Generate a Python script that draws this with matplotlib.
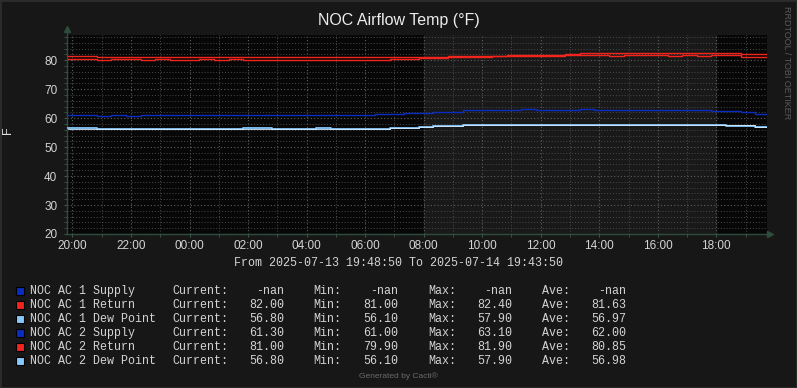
import matplotlib
matplotlib.use("Agg")
import matplotlib.pyplot as plt
import matplotlib.dates as mdates
import matplotlib.patches as mpatches
import pandas as pd

plt.rcParams["font.family"] = ["Liberation Sans", "DejaVu Sans"]

# sample times (30 min steps) and the end of the graph window
t_start = pd.Timestamp("2025-07-13 19:48:50")
t_end = pd.Timestamp("2025-07-14 19:43:50")
times = pd.date_range("2025-07-13 19:50", periods=48, freq="30min")

ac2_supply = [61.0, 61.0, 60.8, 61.0, 60.8, 61.0, 61.0, 61.0, 61.0, 61.0, 61.0, 61.0,
              61.0, 61.0, 61.0, 61.0, 61.0, 61.0, 61.0, 61.0, 61.0, 61.3, 61.3, 61.6,
              61.6, 62.1, 62.1, 62.9, 62.9, 62.9, 62.9, 63.1, 62.9, 62.9, 62.9, 63.1,
              62.9, 62.9, 62.9, 62.9, 62.9, 62.9, 62.9, 62.9, 62.6, 62.6, 62.2, 61.3]
ac1_return = [81.5, 81.5, 81.2, 81.2, 81.2, 81.2, 81.2, 81.2, 81.2, 81.2, 81.2, 81.2,
              81.2, 81.2, 81.2, 81.2, 81.2, 81.2, 81.2, 81.2, 81.2, 81.2, 81.2, 81.2,
              81.2, 81.2, 81.3, 81.4, 81.5, 81.6, 81.7, 81.8, 81.8, 81.9, 82.0, 82.4,
              82.4, 82.4, 82.4, 82.4, 82.4, 82.4, 82.4, 82.4, 82.4, 82.4, 82.0, 82.0]
ac2_return = [80.3, 80.3, 80.0, 80.3, 80.3, 80.0, 80.3, 80.0, 80.0, 80.3, 80.0, 80.3,
              80.0, 80.0, 80.0, 79.9, 80.0, 80.0, 80.0, 80.0, 80.0, 80.0, 80.3, 80.5,
              80.7, 80.9, 81.0, 81.1, 81.2, 81.3, 81.4, 81.5, 81.6, 81.6, 81.7, 81.8,
              81.8, 81.6, 81.8, 81.9, 81.8, 81.6, 81.8, 81.6, 81.8, 81.8, 81.0, 81.0]
ac1_dew = [56.5, 56.5, 56.3, 56.3, 56.3, 56.3, 56.1, 56.1, 56.1, 56.3, 56.3, 56.2,
           56.5, 56.5, 56.3, 56.3, 56.3, 56.5, 56.3, 56.3, 56.3, 56.3, 56.6, 56.7,
           56.8, 57.2, 57.4, 57.7, 57.8, 57.8, 57.8, 57.8, 57.8, 57.8, 57.8, 57.8,
           57.7, 57.8, 57.8, 57.8, 57.8, 57.7, 57.8, 57.5, 57.5, 57.3, 57.3, 56.8]
ac2_dew = [56.3, 56.3, 56.3, 56.3, 56.3, 56.3, 56.3, 56.3, 56.3, 56.3, 56.3, 56.3,
           56.3, 56.3, 56.3, 56.3, 56.3, 56.3, 56.3, 56.3, 56.3, 56.3, 56.6, 56.7,
           56.8, 57.2, 57.4, 57.7, 57.8, 57.8, 57.8, 57.8, 57.8, 57.8, 57.8, 57.8,
           57.8, 57.8, 57.8, 57.8, 57.8, 57.8, 57.8, 57.8, 57.8, 57.5, 57.5, 56.8]

legend_names = ["NOC AC 1 Supply", "NOC AC 1 Return", "NOC AC 1 Dew Point",
                "NOC AC 2 Supply", "NOC AC 2 Return", "NOC AC 2 Dew Point"]
cur_vals = ["-nan", "82.00", "56.80", "61.30", "81.00", "56.80"]
min_vals = ["-nan", "81.00", "56.10", "61.00", "79.90", "56.10"]
max_vals = ["-nan", "82.40", "57.90", "63.10", "81.90", "57.90"]
ave_vals = ["-nan", "81.63", "56.97", "62.00", "80.85", "56.98"]

BLUE = "#0b2cc0"
RED = "#f3241b"
LBLUE = "#86c9ff"
legend_colors = [BLUE, RED, LBLUE, BLUE, RED, LBLUE]

W, H = 797, 388
BG = "#171717"
fig = plt.figure(figsize=(W / 100, H / 100), dpi=100, facecolor=BG)
ax = fig.add_axes([67 / W, 154 / H, 700 / W, 199 / H])
ax.set_facecolor("#070707")


def px(x, y):
    return x / W, 1 - y / H


# working hours highlight
ax.axvspan(pd.Timestamp("2025-07-14 08:00"), pd.Timestamp("2025-07-14 18:00"),
           color="#191919", zorder=0)

x = list(times) + [t_end]


def line(vals, color, lw, z):
    ax.step(x, list(vals) + [vals[-1]], where="post", color=color, lw=lw, zorder=z)


line(ac2_supply, BLUE, 1.0, 3)
line(ac1_return, RED, 1.0, 3)
line(ac2_return, RED, 1.0, 3)
line(ac1_dew, LBLUE, 1.3, 3)
line(ac2_dew, "#d6ecff", 0.6, 4)

ax.set_xlim(t_start, t_end)
ax.set_ylim(20, 88.7)

ax.xaxis.set_major_locator(mdates.HourLocator(byhour=range(0, 24, 2)))
ax.xaxis.set_major_formatter(mdates.DateFormatter("%H:%M"))
ax.xaxis.set_minor_locator(mdates.HourLocator())
ax.set_yticks(range(20, 81, 10))
ax.set_yticks(range(20, 89, 2), minor=True)

ax.grid(True, which="minor", color="#4a4a4a", ls=(0, (1, 2)), lw=0.7)
ax.grid(True, which="major", color="#5e5e5e", ls=(0, (1, 2)), lw=0.8)
ax.set_axisbelow(True)
ax.tick_params(which="both", colors="#3a5a48", length=2, labelcolor="#d4d4d4",
               labelsize=8.5)
ax.tick_params(axis="y", pad=5)
ax.tick_params(axis="x", pad=2)

for s in ["top", "right"]:
    ax.spines[s].set_visible(False)
for s in ["left", "bottom"]:
    ax.spines[s].set_color("#2f4d3c")
    ax.spines[s].set_linewidth(1)
ax.plot([0], [1.03], marker="^", color="#2f4d3c", ms=5, transform=ax.transAxes,
        clip_on=False)
ax.plot([1.005], [0], marker=">", color="#2f4d3c", ms=5, transform=ax.transAxes,
        clip_on=False)
ax.spines["left"].set_bounds(20, 89.5)

fig.text(*px(399, 20), "NOC Airflow Temp (°F)", ha="center", va="center",
         color="#ececec", fontsize=11.5)
fig.text(*px(8, 130), "F", ha="center", va="center", rotation=90,
         color="#e0e0e0", fontsize=9)
fig.text(*px(787, 6), "RRDTOOL / TOBI OETIKER", ha="center", va="top",
         rotation=-90, color="#5a5a5a", fontsize=6.5)
fig.text(*px(399, 263), "From 2025-07-13 19:48:50 To 2025-07-14 19:43:50",
         ha="center", va="center", color="#d4d4d4", family="Liberation Mono",
         fontsize=8.4)

mono = dict(family="Liberation Mono", fontsize=8.4, color="#d4d4d4", va="center")
for i, name in enumerate(legend_names):
    y = 291 + 14 * i
    fig.patches.append(mpatches.Rectangle(px(16, y + 4), 8 / W, 8 / H,
                                          transform=fig.transFigure,
                                          facecolor=legend_colors[i],
                                          edgecolor="#000000", lw=0.8))
    fig.text(*px(30, y), name, ha="left", **mono)
    fig.text(*px(172, y), "Current:", ha="left", **mono)
    fig.text(*px(284, y), cur_vals[i], ha="right", **mono)
    fig.text(*px(313, y), "Min:", ha="left", **mono)
    fig.text(*px(398, y), min_vals[i], ha="right", **mono)
    fig.text(*px(428, y), "Max:", ha="left", **mono)
    fig.text(*px(512, y), max_vals[i], ha="right", **mono)
    fig.text(*px(542, y), "Ave:", ha="left", **mono)
    fig.text(*px(626, y), ave_vals[i], ha="right", **mono)

fig.text(*px(398, 376), "Generated by Cacti®", ha="center", va="center",
         color="#6a6a6a", fontsize=6)

fig.patches.append(mpatches.Rectangle((0, 0), 1, 1, transform=fig.transFigure,
                                      fill=False, edgecolor="#2c2c2c", lw=2))

fig.savefig("out.png", dpi=100, facecolor=BG)
